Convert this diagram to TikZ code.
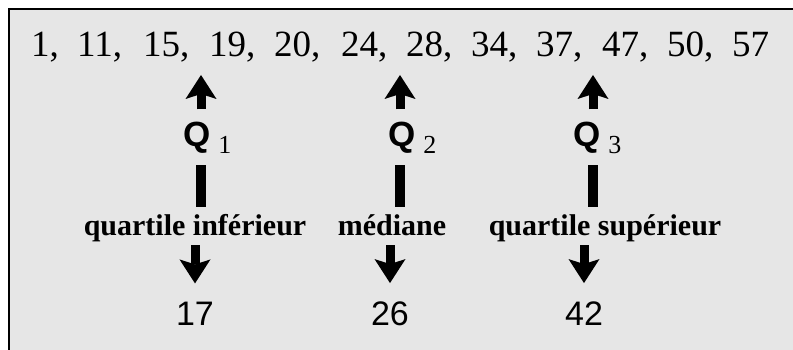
\documentclass[tikz,border=0pt]{standalone}
\usepackage{fontspec}
\setmainfont{Liberation Serif}
\newfontfamily\sansfont{Liberation Sans}
\usetikzlibrary{arrows.meta}
\pgfdeclarelayer{background}
\pgfsetlayers{background,main}
\definecolor{panelgray}{RGB}{230,230,230}

\begin{document}
\begin{tikzpicture}[x=1pt,y=-1pt,
  listnum/.style={anchor=base west,inner sep=0pt,font=\fontsize{37}{40}\selectfont},
  qname/.style={anchor=base west,inner sep=0pt,font=\fontsize{35}{38}\selectfont},
  qlabel/.style={anchor=base,inner sep=0pt,font=\fontsize{30}{32}\selectfont\bfseries},
  qvalue/.style={anchor=base,inner sep=0pt,font=\fontsize{34}{36}\sansfont},
  uparrow/.style={line width=9pt,-{Stealth[length=24pt,width=31pt,inset=5pt,line width=0pt]},shorten <=13pt},
  downarrow/.style={line width=9pt,-{Stealth[length=24pt,width=31pt,inset=5pt,line width=0pt]},shorten <=10pt,shorten >=18pt},
  qbar/.style={line width=10pt,shorten <=11pt,shorten >=7pt}]
\useasboundingbox (0,0) rectangle (793,350);
\begin{pgfonlayer}{background}
\fill[panelgray] (9,9) rectangle (793,350);
\draw[line width=1.5pt] (9,350) -- (9,9) -- (793,9);
\end{pgfonlayer}
% la serie ordonnee
\foreach \x/\n [count=\i] in {31/{1,},77/{11,},143/{15,},209/{19,},274/{20,},341/{24,},
    406/{28,},471/{34,},536/{37,},602/{47,},667/{50,},732/{57}}
  \node[listnum] (n\i) at (\x,57) {\n};
% les quartiles
\node[qname] (q1) at (183,147) {{\sansfont\bfseries Q}\hspace{8pt}\raisebox{-6pt}{\fontsize{26}{28}\selectfont 1}};
\node[qname] (q2) at (388,147) {{\sansfont\bfseries Q}\hspace{8pt}\raisebox{-6pt}{\fontsize{26}{28}\selectfont 2}};
\node[qname] (q3) at (573,147) {{\sansfont\bfseries Q}\hspace{8pt}\raisebox{-6pt}{\fontsize{26}{28}\selectfont 3}};
\node[qlabel] (l1) at (195,235) {quartile inférieur};
\node[qlabel] (l2) at (392,235) {médiane};
\node[qlabel] (l3) at (605,235) {quartile supérieur};
\node[qvalue] (v1) at (195,325) {17};
\node[qvalue] (v2) at (390,325) {26};
\node[qvalue] (v3) at (584,325) {42};
\coordinate (u1) at (201,75);
\coordinate (u2) at (400,75);
\coordinate (u3) at (593,75);
\draw[uparrow] (q1.north -| u1) -- (u1);
\draw[uparrow] (q2.north -| u2) -- (u2);
\draw[uparrow] (q3.north -| u3) -- (u3);
\draw[qbar] (q1.south -| u1) -- (l1.north -| u1);
\draw[qbar] (q2.south -| u2) -- (l2.north -| u2);
\draw[qbar] (q3.south -| u3) -- (l3.north -| u3);
\draw[downarrow] (l1.base -| v1) -- (v1.north);
\draw[downarrow] (l2.base -| v2) -- (v2.north);
\draw[downarrow] (l3.base -| v3) -- (v3.north);
\end{tikzpicture}
\end{document}
